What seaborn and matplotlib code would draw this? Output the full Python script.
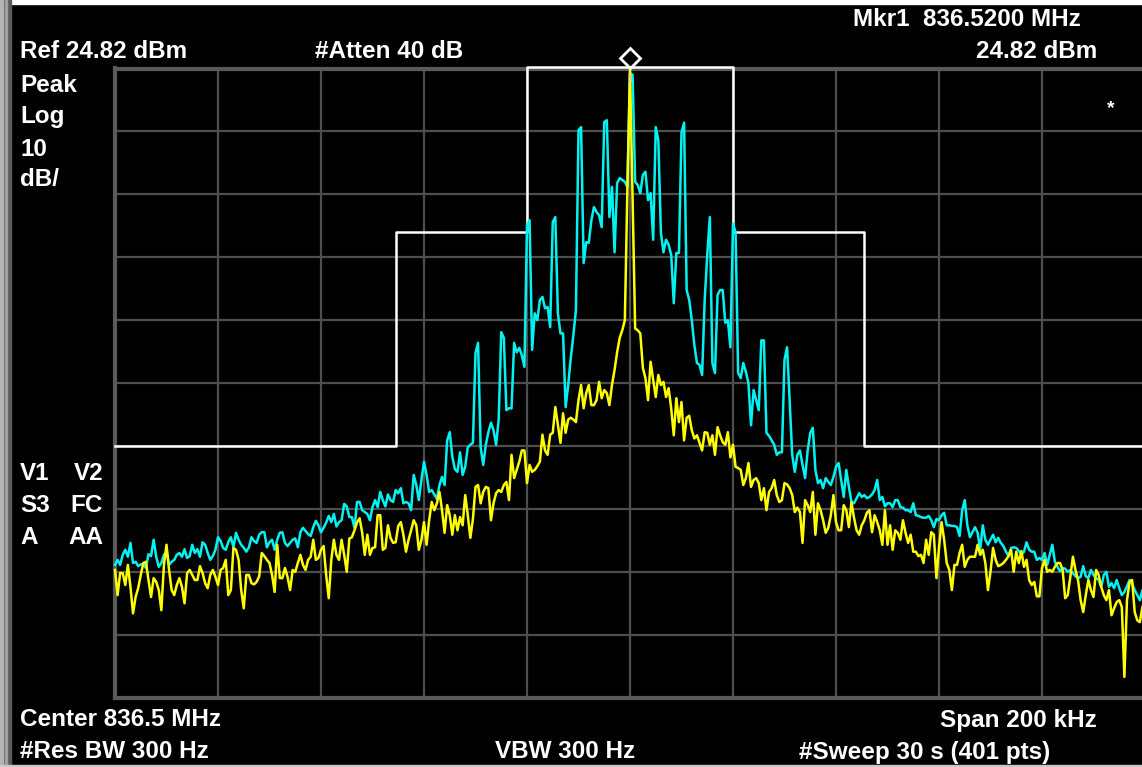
import numpy as np
import matplotlib
matplotlib.use("Agg")
import matplotlib.pyplot as plt
import seaborn as sns
from matplotlib.patches import Rectangle

# sweep settings
center_mhz = 836.5
span_khz = 200
n_pts = 401
ref_dbm = 24.82
db_per_div = 10

# limit mask: edges in kHz from center, levels in dBm
mask_edges_khz = [-100, -45.5, -20, 20, 45.5, 100]
mask_levels_dbm = [-35.18, -1.18, 25.0, -1.18, -35.18]

# cyan trace (dBm), 401 sweep points left to right
cyan_trace = [
    -54.1, -53.3, -54.1, -52.5, -51.7, -52.8, -50.6, -53.8, -53.6, -54.3,
    -54.0, -54.0, -54.6, -52.4, -52.7, -50.1, -52.8, -54.4, -53.8, -52.5,
    -52.0, -54.1, -53.6, -53.3, -52.5, -52.2, -52.8, -51.6, -53.0, -52.7,
    -50.9, -52.2, -51.6, -52.8, -50.5, -50.9, -52.2, -53.3, -52.7, -51.7,
    -49.7, -50.3, -51.4, -51.7, -50.5, -49.7, -51.3, -49.0, -50.1, -50.9,
    -51.4, -52.0, -51.3, -49.7, -50.3, -50.6, -49.3, -48.9, -48.9, -51.3,
    -50.5, -50.1, -51.7, -50.1, -49.0, -48.9, -50.6, -51.1, -50.6, -50.1,
    -49.9, -51.3, -48.9, -48.2, -48.7, -49.2, -49.5, -48.1, -47.1, -47.8,
    -48.9, -48.2, -47.4, -46.3, -47.3, -46.0, -48.0, -47.3, -47.0, -44.4,
    -44.8, -46.5, -46.5, -48.2, -44.1, -44.1, -45.4, -45.7, -46.0, -47.0,
    -44.9, -43.8, -44.9, -42.5, -43.8, -44.8, -42.9, -43.8, -44.1, -42.2,
    -42.7, -41.9, -44.3, -44.1, -44.3, -45.4, -39.8, -41.4, -43.8, -40.6,
    -37.7, -39.8, -42.5, -42.2, -42.9, -43.6, -41.4, -40.1, -41.4, -34.3,
    -33.0, -36.9, -38.9, -39.3, -36.2, -39.8, -38.5, -35.4, -35.0, -34.7,
    -20.4, -18.8, -35.4, -38.2, -35.0, -33.0, -31.5, -32.7, -35.0, -31.0,
    -17.1, -18.0, -29.5, -29.2, -29.2, -18.8, -20.3, -19.6, -20.8, -22.6,
    -0.1, 0.7, -19.9, -14.1, -15.2, -12.0, -11.5, -13.3, -13.1, -16.3,
    0.4, 1.2, -14.1, -17.3, -17.3, -29.0, -25.5, -21.2, -17.6, -13.6,
    15.0, 15.5, -6.1, -2.8, -2.9, 0.7, 2.8, 2.0, 1.5, -0.4,
    16.3, 16.6, 1.2, 6.0, -4.4, 6.6, 7.4, 7.1, 6.8, 6.0,
    24.1, 23.8, 6.8, 6.3, 5.0, 7.9, 8.4, 3.9, 5.0, -2.4,
    15.5, 13.4, -1.3, -4.4, -2.4, -3.2, -4.8, -12.5, -4.5, -4.5,
    14.6, 16.2, -10.4, -12.0, -15.2, -19.2, -22.0, -22.3, -23.9, -12.0,
    -4.8, 1.2, -22.0, -23.6, -11.2, -10.4, -10.4, -15.6, -15.2, -19.5,
    0.2, -1.2, -23.6, -24.4, -22.0, -23.4, -25.2, -31.9, -26.3, -27.9,
    -29.5, -18.4, -18.4, -33.1, -33.6, -34.3, -35.0, -36.6, -36.2, -36.2,
    -21.5, -19.5, -27.9, -36.6, -39.3, -36.6, -35.9, -38.2, -40.3, -35.9,
    -33.1, -32.3, -39.0, -41.1, -40.6, -41.9, -40.3, -40.9, -41.4, -40.1,
    -38.5, -37.9, -40.6, -43.3, -39.0, -41.7, -44.1, -44.3, -43.5, -42.7,
    -43.3, -43.0, -43.5, -43.3, -42.9, -42.2, -40.6, -43.8, -43.3, -44.8,
    -44.3, -44.3, -44.9, -43.8, -43.8, -44.9, -45.0, -45.4, -45.4, -45.7,
    -44.3, -46.2, -46.3, -46.5, -46.6, -46.6, -46.3, -47.0, -48.1, -46.8,
    -47.0, -46.2, -45.8, -47.8, -47.8, -47.9, -47.9, -48.1, -49.5, -45.4,
    -43.8, -47.8, -49.7, -48.9, -48.1, -49.0, -51.7, -47.8, -50.1, -50.9,
    -50.1, -49.3, -50.5, -49.8, -50.6, -51.1, -52.0, -52.7, -51.4, -51.3,
    -51.4, -51.9, -52.5, -52.0, -50.5, -51.7, -52.0, -52.0, -53.3, -53.0,
    -53.3, -52.2, -54.1, -52.5, -50.9, -53.6, -54.4, -55.1, -54.6, -54.7,
    -55.2, -54.9, -55.4, -55.9, -56.2, -56.0, -54.3, -55.9, -56.2, -54.9,
    -55.7, -56.2, -56.5, -57.6, -55.7, -55.2, -57.6, -57.0, -57.8, -56.5,
    -57.8, -58.9, -58.4, -57.5, -56.5, -57.1, -58.1, -58.9, -59.7, -58.1,
    -58.4,
]

# yellow trace (dBm), 401 sweep points left to right
yellow_trace = [
    -54.9, -58.9, -55.4, -55.4, -57.3, -54.1, -57.6, -61.8, -59.2, -57.8,
    -55.7, -53.8, -53.6, -56.5, -59.2, -56.2, -56.8, -58.1, -61.3, -54.1,
    -50.9, -54.9, -58.1, -58.9, -57.3, -56.2, -57.6, -60.2, -55.4, -54.9,
    -55.7, -56.5, -56.5, -54.3, -55.4, -57.0, -57.8, -55.7, -54.9, -56.0,
    -57.3, -54.9, -54.6, -53.3, -58.9, -58.1, -51.4, -51.7, -53.3, -58.1,
    -61.0, -55.7, -55.7, -57.0, -57.2, -56.8, -55.9, -52.2, -52.7, -53.3,
    -53.8, -55.7, -58.4, -50.9, -56.2, -56.2, -54.6, -56.0, -58.1, -54.9,
    -55.2, -53.8, -52.5, -54.1, -54.9, -53.3, -52.8, -50.1, -53.3, -53.0,
    -51.7, -51.1, -55.7, -59.4, -53.3, -50.1, -52.5, -53.3, -50.1, -52.5,
    -55.2, -49.9, -49.7, -48.6, -47.3, -46.7, -49.0, -52.5, -49.3, -52.5,
    -51.4, -51.3, -46.2, -46.2, -51.7, -51.4, -47.8, -49.8, -50.6, -50.5,
    -47.9, -47.3, -49.3, -52.0, -50.1, -48.6, -47.0, -47.8, -51.7, -50.1,
    -47.3, -50.9, -47.0, -44.1, -45.4, -44.3, -42.5, -45.4, -49.0, -44.6,
    -46.2, -49.3, -46.2, -48.6, -46.5, -47.8, -43.0, -46.2, -49.8, -46.8,
    -41.7, -41.4, -44.3, -42.5, -41.7, -41.9, -47.0, -44.3, -42.7, -42.2,
    -42.5, -41.4, -40.9, -43.8, -36.6, -40.3, -39.0, -37.7, -35.9, -35.9,
    -41.1, -38.2, -39.3, -39.0, -38.4, -37.7, -33.4, -35.9, -36.6, -33.4,
    -33.1, -29.0, -31.9, -34.7, -30.0, -33.1, -31.0, -30.7, -31.0, -31.4,
    -27.9, -25.5, -29.2, -26.8, -25.5, -28.7, -28.7, -27.9, -25.0, -27.6,
    -26.3, -26.8, -28.7, -25.5, -23.1, -20.3, -18.0, -16.8, -15.2, 6.0,
    24.82, 4.0, -16.5, -16.8, -17.3, -22.8, -24.4, -27.9, -21.8, -24.7,
    -27.4, -23.9, -25.5, -25.0, -27.4, -26.0, -29.2, -33.5, -27.6, -31.4,
    -28.2, -34.3, -30.7, -30.4, -32.7, -34.0, -33.5, -34.7, -35.9, -33.0,
    -33.1, -35.0, -33.5, -36.6, -32.2, -33.5, -34.6, -35.0, -33.0, -37.0,
    -35.0, -38.5, -38.7, -39.0, -41.4, -40.3, -37.9, -41.7, -40.6, -40.3,
    -41.1, -43.8, -41.9, -45.4, -42.5, -41.9, -40.6, -43.0, -44.1, -43.8,
    -41.1, -41.3, -41.9, -43.0, -45.7, -45.0, -45.7, -50.6, -43.8, -44.6,
    -45.7, -42.5, -49.3, -44.3, -45.4, -47.0, -49.0, -48.2, -46.2, -43.0,
    -47.3, -48.6, -48.6, -44.6, -45.4, -48.1, -44.1, -46.6, -48.6, -49.3,
    -47.8, -47.0, -45.8, -45.4, -48.9, -46.2, -47.3, -48.6, -50.9, -45.4,
    -50.9, -47.8, -51.7, -48.6, -49.0, -50.1, -47.0, -49.0, -50.6, -49.3,
    -52.0, -52.0, -52.7, -52.5, -53.8, -50.1, -52.5, -48.9, -49.3, -56.2,
    -51.4, -47.3, -50.1, -53.8, -54.9, -58.1, -54.1, -54.1, -52.2, -50.9,
    -54.4, -53.3, -52.8, -52.8, -52.8, -50.9, -52.5, -51.7, -53.8, -58.1,
    -55.2, -51.4, -53.3, -54.3, -54.1, -53.8, -53.3, -52.7, -51.7, -55.2,
    -52.0, -53.8, -51.9, -54.4, -53.3, -56.5, -57.3, -56.8, -59.1, -59.1,
    -54.6, -53.3, -55.2, -54.9, -55.2, -54.4, -53.8, -53.8, -54.9, -59.4,
    -58.9, -56.0, -52.8, -54.9, -56.5, -59.7, -61.6, -58.9, -56.5, -58.1,
    -59.2, -54.9, -55.7, -57.6, -58.9, -59.7, -58.1, -62.1, -61.0, -60.0,
    -59.7, -60.8, -71.9, -59.7, -56.8, -56.5, -61.6, -62.9, -63.2, -60.8,
    -59.7,
]

freq_khz = np.linspace(-span_khz / 2, span_khz / 2, n_pts)

W, H = 1142, 767
fig = plt.figure(figsize=(W / 100, H / 100), dpi=100, facecolor="black")
plt.rcParams["font.family"] = ["Liberation Sans", "DejaVu Sans"]

# graticule box, right edge runs a little past the screenshot
ax = fig.add_axes([115 / W, 69.5 / H, 1030 / W, 629 / H])
ax.set_facecolor("black")
ax.set_xlim(-span_khz / 2, span_khz / 2)
ax.set_ylim(ref_dbm - 10 * db_per_div, ref_dbm)
ax.set_xticks(np.linspace(-span_khz / 2, span_khz / 2, 11))
ax.set_yticks(ref_dbm - db_per_div * np.arange(11))
ax.tick_params(length=0, labelbottom=False, labelleft=False)
ax.grid(True, color="#4e4e4e", linewidth=1.6)
ax.set_axisbelow(True)
for s in ax.spines.values():
    s.set_color("#5a5a5a")
    s.set_linewidth(3)

# mask, then the two traces (kept above the frame)
sns.lineplot(x=mask_edges_khz, y=mask_levels_dbm + [mask_levels_dbm[-1]],
             drawstyle="steps-post", color="white", linewidth=1.8,
             ax=ax, legend=False, clip_on=False, zorder=3)
sns.lineplot(x=freq_khz, y=cyan_trace, color="#00f2f2", linewidth=1.8,
             ax=ax, legend=False, clip_on=False, zorder=4)
sns.lineplot(x=freq_khz, y=yellow_trace, color="#ffff00", linewidth=1.8,
             ax=ax, legend=False, clip_on=False, zorder=5)

# marker 1 diamond above the peak
ax.plot([0], [ref_dbm + 1.7], marker="D", markersize=10, markerfacecolor="none",
        markeredgecolor="white", markeredgewidth=2, clip_on=False, zorder=6)
ax.text(0, ref_dbm - 1.6, "1", color="#d0d0b0", fontsize=7, ha="center",
        va="center", fontweight="bold", zorder=6)


def label(x, y, s, ha="left", size=17.5):
    fig.text(x / W, 1 - y / H, s, color="white", fontsize=size,
             fontweight="bold", ha=ha, va="baseline")


label(1081, 26.5, "Mkr1  836.5200 MHz", ha="right")
label(20, 58.5, "Ref 24.82 dBm")
label(315, 58.5, "#Atten 40 dB")
label(1097, 58.5, "24.82 dBm", ha="right")
for txt, yb in [("Peak", 91.5), ("Log", 123.5), ("10", 155.5), ("dB/", 186.5)]:
    label(20, yb, txt)
for left, right, yb in [("V1", "V2", 479.5), ("S3", "FC", 511.5), ("A", "AA", 544.5)]:
    label(20, yb, left)
    label(103, yb, right, ha="right")
label(20, 726.5, "Center 836.5 MHz")
label(1097, 726.5, "Span 200 kHz", ha="right")
label(20, 758.5, "#Res BW 300 Hz")
label(495, 758.5, "VBW 300 Hz")
label(1050, 758.5, "#Sweep 30 s (401 pts)", ha="right")
label(1111, 113, "*", ha="center", size=14)

# screen bezel edges
fig.add_artist(Rectangle((0, 1 - 4 / H), 1, 4 / H, color="white",
                         transform=fig.transFigure))
fig.add_artist(Rectangle((0, 0), 11 / W, 1, color="#5a5a5a",
                         transform=fig.transFigure))
fig.add_artist(Rectangle((0, 0), 3 / W, 1, color="#b4b4b4",
                         transform=fig.transFigure))
fig.add_artist(Rectangle((5 / W, 0), 2 / W, 1, color="#a0a0a0",
                         transform=fig.transFigure))
fig.add_artist(Rectangle((0, 0), 1, 2 / H, color="#c8c8c8",
                         transform=fig.transFigure))

fig.savefig("out.png", dpi=100, facecolor="black")
